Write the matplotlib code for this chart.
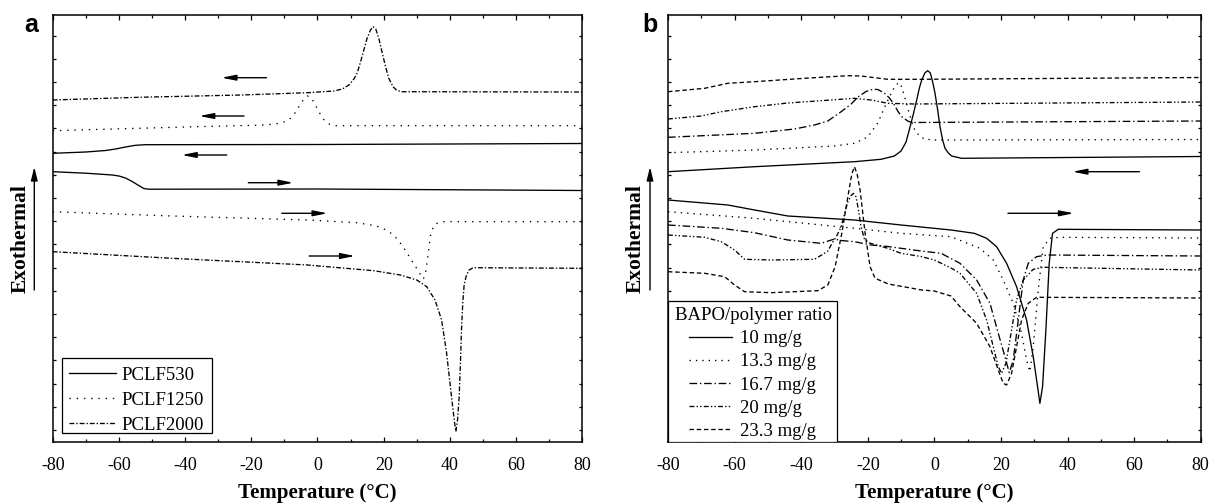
import numpy as np
import matplotlib
matplotlib.use("Agg")
import matplotlib.pyplot as plt
from matplotlib.ticker import MultipleLocator, FixedLocator, NullFormatter
from matplotlib.lines import Line2D
from matplotlib.patches import Rectangle

plt.rcParams['font.family'] = ['Liberation Serif', 'DejaVu Serif']
plt.rcParams['axes.unicode_minus'] = False
plt.rcParams['lines.scale_dashes'] = False

# ---------------- Panel a data (T in degC, heat flow in arbitrary units) -------------
a_labels = ["PCLF530", "PCLF1250", "PCLF2000"]

a530_cool_T = [-80, -70, -64, -61, -58, -55, -52, 0, 80]
a530_cool_y = [288.7, 290, 291.5, 293, 295, 296.7, 297.3, 297.5, 298.5]
a530_heat_T = [-80, -70, -62, -60, -58, -56, -54, -52.5, -51, 0, 80]
a530_heat_y = [270.3, 268.8, 267, 266, 264, 260.5, 256.5, 253.5, 252.8, 253, 251.5]

a1250_cool_T = [-80, -40, -16, -12, -9, -7, -5.5, -4.3, -3, -1.8, -0.5, 0.7, 2, 3.5, 5, 80]
a1250_cool_y = [311.3, 315, 317, 318.5, 321, 328, 336, 342, 346, 344, 336, 328.7, 322, 318, 316.3, 316.3]
a1250_heat_T = [-80, -44, -3, 12, 17, 19, 21, 23, 25, 26.5, 28, 29.5, 31, 32, 32.8, 33.5, 34.2, 35.2, 37, 80]
a1250_heat_y = [230.3, 226, 222, 219.3, 216.5, 214.7, 211.5, 207, 199, 192, 184, 176, 168, 163, 172, 190, 208, 217, 220.3, 220.3]

a2000_cool_T = [-80, -54, -23, -3, 5, 7.5, 9.5, 11, 12, 13, 14, 15, 16, 16.8, 17.6, 18.5, 19.5, 20.5,
                21.5, 22.8, 24, 25.5, 80]
a2000_cool_y = [342, 344.7, 347, 349.3, 351, 353, 357, 363, 369, 380, 392, 404, 412, 415.3, 413, 404, 390, 376,
                364, 355.3, 351.5, 350.3, 350]
a2000_heat_T = [-80, -44, -3, 17, 25, 30, 33, 35.5, 37.5, 39, 40.5, 41.3, 41.8, 42.3, 42.8, 43.2, 43.5, 43.9,
                44.3, 45, 45.8, 47, 80]
a2000_heat_y = [190.3, 183.7, 177, 171.3, 167, 162, 155.3, 142, 122, 89, 45, 22, 10.3, 22, 45, 80, 112, 140,
                157, 167, 172, 174.3, 173.7]

# arrows (tail T, head T, level)
a_arrows = [(-15.4, -29.0, 364.3), (-22.2, -35.7, 326.0), (-27.4, -41.0, 287.0),
            (-20.9, -7.3, 259.3), (-10.8, 3.0, 228.7), (-2.5, 11.3, 186.0)]

# ---------------- Panel b data ---------------------------------------------------------
b_labels = ["10 mg/g", "13.3 mg/g", "16.7 mg/g", "20 mg/g", "23.3 mg/g"]

b10_cool_T = [-80, -54, -24, -16, -12, -10, -8.5, -7.3, -6.3, -5.3, -4.5, -3.8, -2.8, -2, -1.2, -0.5, 0.2,
              1, 1.7, 2.5, 3.2, 4.2, 5.2, 8.2, 80]
b10_cool_y = [270.3, 275.3, 280.3, 282.7, 286, 291, 300, 315, 328, 342, 354, 362, 369.3, 371.3, 369, 360, 348.7,
              332, 315.3, 302, 293.7, 289, 286, 283.7, 285.5]
b13_cool_T = [-80, -54, -30, -24, -20, -17, -14.5, -12.5, -11, -10.3, -9.5, -8.5, -7.5, -6, -4.5, -3, 0, 80]
b13_cool_y = [289.3, 292, 296, 298.7, 305, 319, 338, 352, 358.5, 359, 352, 340, 328, 313, 306, 303, 302, 302.5]
b167_cool_T = [-80, -54, -42, -36, -32, -28, -25, -22.8, -20.5, -18.5, -17, -15, -13.5, -12.3, -11, -9.8, -8,
               -6.8, 80]
b167_cool_y = [304.7, 308.7, 313, 317, 321, 330.3, 338, 345.3, 350.5, 352.7, 352.5, 349, 344, 338.7, 331, 325.3,
               321, 319.5, 321]
b20_cool_T = [-80, -70, -64, -54, -44, -34, -24, -19, -14, -6, 80]
b20_cool_y = [323, 326, 330.3, 335.3, 339, 341.3, 343.7, 342, 338.7, 338, 340]
b233_cool_T = [-80, -69, -62, -54, -39, -26, -22, -14, -4, 80]
b233_cool_y = [350.3, 353.7, 358.7, 360.3, 363.7, 366.3, 366, 362.7, 362.7, 364.5]

b10_heat_T = [-80, -62, -54, -44, -24, -10, 5, 12, 15.7, 18.7, 21.7, 24.7, 27.7, 29.7, 31, 31.7, 32.5, 33.5,
              34.5, 35.5, 37.2, 80]
b10_heat_y = [242, 237, 232, 226, 222, 217, 212, 208.7, 203.7, 195.3, 178.7, 155.3, 122, 85.3, 55.3, 38.7, 55.3,
              112, 178.7, 208.7, 212.7, 212]
b13_heat_T = [-80, -54, -24, -10, 5, 13.7, 17.7, 20.7, 23.7, 26.2, 27.7, 28.7, 29.7, 31.2, 32.7, 34.7, 37.7, 80]
b13_heat_y = [230.3, 223.7, 213.7, 208.7, 205.3, 193.7, 182, 162, 138.7, 108.7, 82, 70.3, 95.3, 152, 195.3,
              203.7, 204.7, 204]
b167_heat_T = [-80, -64, -54, -44, -34, -30, -28, -24, -19, -14, -10, -4, 2, 7.7, 12.7, 16.7, 19.2, 21.2, 22.5,
               23.7, 25.2, 26.7, 28.2, 30.7, 33.7, 80]
b167_heat_y = [217, 213.7, 209.3, 202, 198.7, 203, 201.5, 200.3, 197, 195.5, 193.7, 191, 188.7, 178.7, 162,
               138.7, 108.7, 85.3, 69.3, 82, 122, 162, 178.7, 185.3, 187, 186]
b20_heat_T = [-80, -69, -64, -60, -57, -49, -36, -33, -32, -30.5, -29.5, -28, -27, -26, -25, -24.3, -23.5,
              -22.8, -22, -21, -19.5, -14, -10, -4, 0, 5, 7.7, 12.7, 15.7, 17.7, 19.2, 20.2, 21.5, 23.2, 24.7,
              26.7, 29.7, 32.7, 80]
b20_heat_y = [207, 204.7, 200.3, 192, 182.7, 182, 182.7, 188.7, 191, 200, 205, 215, 228, 240, 246.5, 248.7,
              245, 232, 215, 203, 199, 193.7, 188.7, 185.5, 182, 174, 168.7, 148.7, 122, 95.3, 75.3, 68.7, 78.7,
              112, 142, 162, 172.7, 174.7, 172]
b233_heat_T = [-80, -69, -63, -60, -57, -49, -35, -32, -29.8, -27.8, -25.8, -24.8, -24, -23.2, -22.3, -20.8,
               -19.3, -17.8, -13.8, -3.8, 0, 5, 7.7, 12.7, 16.7, 19.2, 20.7, 21.7, 23.2, 24.7, 26.2, 28.2, 30.7, 80]
b233_heat_y = [170.3, 168.7, 165.3, 157, 150.3, 149.3, 151.3, 157, 175.3, 208.7, 248.7, 268, 275.3, 268, 252,
               208.7, 175.3, 163.7, 158, 152, 151, 146, 135.3, 118.7, 95.3, 72, 58.7, 57, 68.7, 95.3, 122, 138.7,
               144.7, 144]

b_arrows = [(61.6, 41.5, 270.3), (22.1, 41.9, 228.7)]

# ---------------- styles ----------------------------------------------------------------
LW = 0.95
sty_a = [dict(ls='-'), dict(ls=(0, (1.0, 4.2))), dict(ls=(0, (3.5, 1.4, 1.0, 1.4)))]
sty_b = [dict(ls='-'), dict(ls=(0, (1.0, 3.6))), dict(ls=(0, (5.5, 2.0, 1.0, 2.0))),
         dict(ls=(0, (3.5, 1.6, 1.0, 1.6, 1.0, 1.6))), dict(ls=(0, (3.2, 2.0)))]

W, H = 1210, 504
fig = plt.figure(figsize=(W / 100, H / 100), dpi=100)
TOP, BOT = 15, 442
axa = fig.add_axes([52.7 / W, 1 - BOT / H, (582.3 - 52.7) / W, (BOT - TOP) / H])
axb = fig.add_axes([668 / W, 1 - BOT / H, (1200.7 - 668) / W, (BOT - TOP) / H])

a_series = [(a530_cool_T, a530_cool_y, a530_heat_T, a530_heat_y),
            (a1250_cool_T, a1250_cool_y, a1250_heat_T, a1250_heat_y),
            (a2000_cool_T, a2000_cool_y, a2000_heat_T, a2000_heat_y)]
b_series = [(b10_cool_T, b10_cool_y, b10_heat_T, b10_heat_y),
            (b13_cool_T, b13_cool_y, b13_heat_T, b13_heat_y),
            (b167_cool_T, b167_cool_y, b167_heat_T, b167_heat_y),
            (b20_cool_T, b20_cool_y, b20_heat_T, b20_heat_y),
            (b233_cool_T, b233_cool_y, b233_heat_T, b233_heat_y)]

for ax, series, styles in [(axa, a_series, sty_a), (axb, b_series, sty_b)]:
    for (tc, yc, th, yh), st in zip(series, styles):
        ax.plot(tc, yc, color='k', lw=LW, dash_capstyle='butt', **st)
        ax.plot(th, yh, color='k', lw=LW, dash_capstyle='butt', **st)

for ax, arrows in [(axa, a_arrows), (axb, b_arrows)]:
    for t0, t1, lev in arrows:
        ax.annotate('', xy=(t1, lev), xytext=(t0, lev),
                    arrowprops=dict(arrowstyle='-|>,head_length=0.85,head_width=0.17',
                                    color='k', lw=1.0, shrinkA=0, shrinkB=0))

for ax in (axa, axb):
    ax.set_xlim(-80, 80)
    ax.set_ylim(0, BOT - TOP)
    ax.xaxis.set_major_locator(MultipleLocator(20))
    ax.xaxis.set_minor_locator(MultipleLocator(10))
    ax.yaxis.set_major_locator(FixedLocator([]))
    ax.yaxis.set_minor_locator(FixedLocator(np.arange(12, BOT - TOP, 23.2)))
    ax.yaxis.set_minor_formatter(NullFormatter())
    ax.tick_params(axis='both', which='both', direction='in', top=True, right=True, width=0.9)
    ax.tick_params(axis='x', which='major', length=3.5, labelsize=13, pad=11)
    ax.tick_params(axis='x', which='minor', length=2.2)
    ax.tick_params(axis='y', which='minor', length=2.0)
    for sp in ax.spines.values():
        sp.set_linewidth(1.1)
    ax.set_xlabel('Temperature (°C)', fontsize=15, fontweight='bold', labelpad=6.5)


def px2ax(ax, left, right, px, py):
    return (px - left) / (right - left), (BOT - py) / (BOT - TOP)


def draw_legend(ax, left, right, box, rows, labels, styles, hx, tx, title=None):
    x0, y1 = px2ax(ax, left, right, box[0], box[1])
    x1, y0 = px2ax(ax, left, right, box[2], box[3])
    ax.add_patch(Rectangle((x0, y0), x1 - x0, y1 - y0, transform=ax.transAxes,
                           fill=True, facecolor='white', edgecolor='k', lw=0.9, zorder=5))
    if title is not None:
        tx0, ty0 = px2ax(ax, left, right, title[1], title[2])
        ax.text(tx0, ty0, title[0], transform=ax.transAxes, fontsize=13.5, ha='left',
                va='center_baseline', zorder=6)
    for ry, lab, st in zip(rows, labels, styles):
        hx0, hy = px2ax(ax, left, right, hx[0], ry)
        hx1, _ = px2ax(ax, left, right, hx[1], ry)
        ax.add_line(Line2D([hx0, hx1], [hy, hy], transform=ax.transAxes, color='k', lw=LW,
                           dash_capstyle='butt', zorder=6, **st))
        tx0, _ = px2ax(ax, left, right, tx, ry)
        ax.text(tx0, hy, lab, transform=ax.transAxes, fontsize=13.5, ha='left',
                va='center_baseline', zorder=6)


draw_legend(axa, 52.7, 582.3, (61.7, 358.3, 212.3, 433.3), [373.3, 398.3, 423.3], a_labels, sty_a,
            (69.3, 116), 121)
draw_legend(axb, 668, 1200.7, (668, 301, 836.8, 442), [336.7, 360, 383.3, 406.2, 429], b_labels, sty_b,
            (689, 731.7), 740, title=('BAPO/polymer ratio', 674.6, 313.3))

# y labels with arrows and panel letters
for lx, arx, letter, letx in [(20.7, 34.3, 'a', 31), (636.0, 650.0, 'b', 649.5)]:
    fig.text(lx / W, 1 - 239 / H, 'Exothermal', rotation=90, fontsize=15.5, fontweight='bold',
             ha='center', va='center')
    fig.add_artist(matplotlib.patches.FancyArrowPatch(
        (arx / W, 1 - 290 / H), (arx / W, 1 - 167 / H), transform=fig.transFigure,
        arrowstyle='-|>,head_length=0.8,head_width=0.2', color='k', lw=1.0,
        shrinkA=0, shrinkB=0, mutation_scale=10))
    fig.text(letx / W, 1 - 25 / H, letter, fontsize=18, fontweight='bold',
             family=['Liberation Sans', 'DejaVu Sans'], ha='center', va='center')

fig.savefig('out.png', dpi=100)
